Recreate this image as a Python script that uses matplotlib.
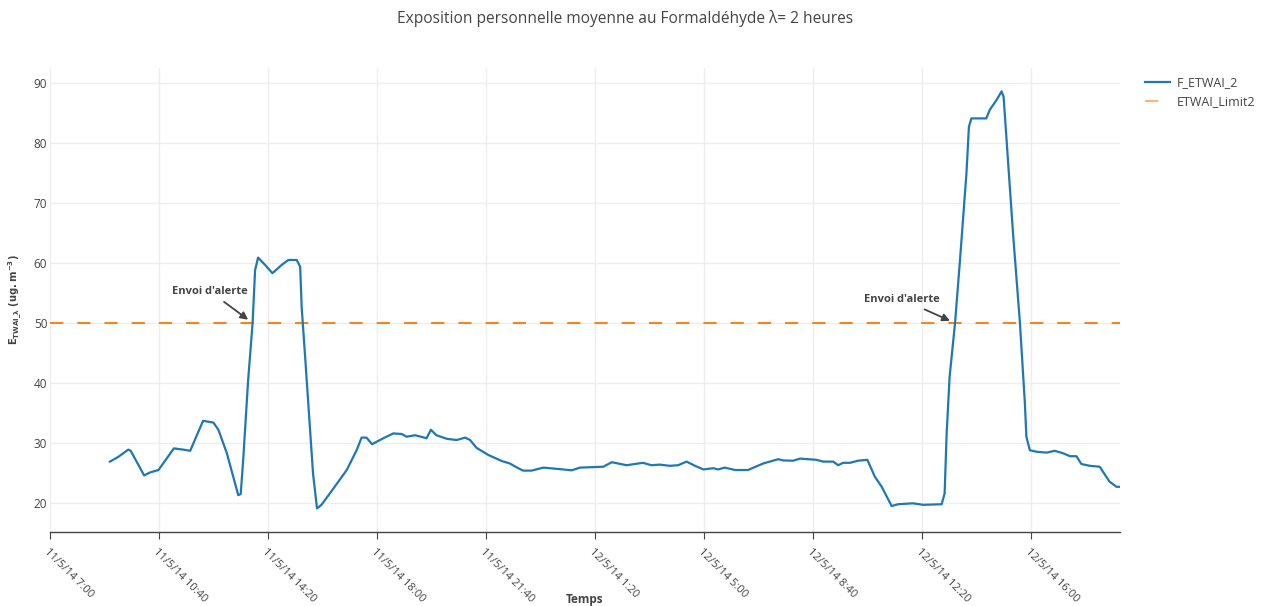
import numpy as np
import pandas as pd
import matplotlib
matplotlib.use("Agg")
import matplotlib.pyplot as plt

plt.rcParams["font.family"] = ["Open Sans", "DejaVu Sans"]
plt.rcParams["mathtext.fontset"] = "dejavusans"

# F_ETWAI_2 readings (day/month/yy hh:mm)
times = [
    "11/5/14 09:01", "11/5/14 09:18", "11/5/14 09:38", "11/5/14 09:43", "11/5/14 10:10",
    "11/5/14 10:22", "11/5/14 10:39", "11/5/14 11:10", "11/5/14 11:29", "11/5/14 11:43",
    "11/5/14 12:09", "11/5/14 12:30", "11/5/14 12:40", "11/5/14 12:57", "11/5/14 13:20",
    "11/5/14 13:25", "11/5/14 13:30", "11/5/14 13:40", "11/5/14 13:49", "11/5/14 13:54",
    "11/5/14 14:00", "11/5/14 14:14", "11/5/14 14:29", "11/5/14 14:48", "11/5/14 15:01",
    "11/5/14 15:18", "11/5/14 15:25", "11/5/14 15:28", "11/5/14 15:35", "11/5/14 15:51",
    "11/5/14 15:59", "11/5/14 16:08", "11/5/14 16:32", "11/5/14 16:59", "11/5/14 17:19",
    "11/5/14 17:29", "11/5/14 17:39", "11/5/14 17:50", "11/5/14 18:13", "11/5/14 18:33",
    "11/5/14 18:50", "11/5/14 19:00", "11/5/14 19:17", "11/5/14 19:40", "11/5/14 19:49",
    "11/5/14 20:00", "11/5/14 20:21", "11/5/14 20:41", "11/5/14 20:58", "11/5/14 21:08",
    "11/5/14 21:21", "11/5/14 21:45", "11/5/14 22:12", "11/5/14 22:28", "11/5/14 22:43",
    "11/5/14 22:55", "11/5/14 23:12", "11/5/14 23:36", "12/5/14 00:03", "12/5/14 00:33",
    "12/5/14 00:50", "12/5/14 01:37", "12/5/14 01:54", "12/5/14 02:24", "12/5/14 02:57",
    "12/5/14 03:14", "12/5/14 03:31", "12/5/14 03:51", "12/5/14 04:08", "12/5/14 04:25",
    "12/5/14 04:42", "12/5/14 04:59", "12/5/14 05:19", "12/5/14 05:29", "12/5/14 05:42",
    "12/5/14 06:03", "12/5/14 06:29", "12/5/14 07:00", "12/5/14 07:30", "12/5/14 07:40",
    "12/5/14 08:00", "12/5/14 08:14", "12/5/14 08:47", "12/5/14 09:01", "12/5/14 09:21",
    "12/5/14 09:31", "12/5/14 09:41", "12/5/14 09:55", "12/5/14 10:11", "12/5/14 10:30",
    "12/5/14 10:45", "12/5/14 10:59", "12/5/14 11:19", "12/5/14 11:32", "12/5/14 12:02",
    "12/5/14 12:23", "12/5/14 13:00", "12/5/14 13:06", "12/5/14 13:10", "12/5/14 13:16",
    "12/5/14 13:27", "12/5/14 13:37", "12/5/14 13:50", "12/5/14 13:55", "12/5/14 14:00",
    "12/5/14 14:30", "12/5/14 14:37", "12/5/14 14:51", "12/5/14 15:01", "12/5/14 15:05",
    "12/5/14 15:11", "12/5/14 15:24", "12/5/14 15:38", "12/5/14 15:48", "12/5/14 15:51",
    "12/5/14 15:58", "12/5/14 16:11", "12/5/14 16:32", "12/5/14 16:48", "12/5/14 17:05",
    "12/5/14 17:19", "12/5/14 17:32", "12/5/14 17:42", "12/5/14 17:59", "12/5/14 18:19",
    "12/5/14 18:39", "12/5/14 18:53", "12/5/14 19:00",
]
etwai = [
    26.9, 27.7, 28.9, 28.7, 24.6,
    25.1, 25.5, 29.1, 28.9, 28.7,
    33.7, 33.4, 32.2, 28.3, 21.3,
    21.5, 27.2, 40.5, 50.0, 58.8,
    60.9, 59.7, 58.3, 59.7, 60.5,
    60.5, 59.4, 52.7, 44.4, 24.9,
    19.1, 19.7, 22.4, 25.5, 28.8,
    30.9, 30.9, 29.8, 30.8, 31.6,
    31.5, 31.05, 31.3, 30.8, 32.2,
    31.3, 30.7, 30.5, 30.9, 30.5,
    29.2, 28.0, 27.0, 26.6, 25.9,
    25.4, 25.4, 25.9, 25.7, 25.45,
    25.9, 26.05, 26.8, 26.3, 26.7,
    26.3, 26.4, 26.2, 26.3, 26.9,
    26.2, 25.6, 25.8, 25.6, 25.9,
    25.5, 25.5, 26.6, 27.3, 27.1,
    27.05, 27.4, 27.2, 26.9, 26.9,
    26.3, 26.7, 26.7, 27.05, 27.2,
    24.4, 22.7, 19.5, 19.8, 19.95,
    19.7, 19.8, 21.6, 31.5, 41.0,
    50.0, 60.5, 74.9, 82.7, 84.1,
    84.1, 85.5, 87.2, 88.6, 87.7,
    80.5, 65.0, 50.0, 36.6, 31.05,
    28.8, 28.55, 28.4, 28.7, 28.3,
    27.8, 27.8, 26.5, 26.2, 26.05,
    23.55, 22.7, 22.7,
]

# ETWAI_Limit2 threshold
limit_times = ["11/5/14 07:00", "12/5/14 19:00"]
limit_values = [50, 50]

# alert points
alert_times = ["11/5/14 13:49", "12/5/14 13:27"]
alert_values = [50, 50]
alert_text = "Envoi d'alerte"

fmt = "%d/%m/%y %H:%M"
t = pd.to_datetime(times, format=fmt)
t_lim = pd.to_datetime(limit_times, format=fmt)
t_alert = pd.to_datetime(alert_times, format=fmt)

GREY = "#444444"

fig = plt.figure(figsize=(12.7, 6.06), dpi=100)
ax = fig.add_axes([50 / 1270, 74 / 606, 1070 / 1270, 464 / 606])

ax.plot(t, etwai, color="#1f77b4", lw=1.6, label="F_ETWAI_2", zorder=3)
ax.plot(t_lim, limit_values, color="#ff7f0e", lw=1.4, dashes=(6.8, 7.2),
        label="ETWAI_Limit2", zorder=2)

# x axis: ticks every 3h40
start = pd.Timestamp("2014-05-11 07:00")
ticks = pd.date_range(start, periods=10, freq="220min")
ax.set_xticks(ticks)
ax.set_xticklabels([f"{d.day}/{d.month}/{d.strftime('%y')} {d.hour}:{d.minute:02d}" for d in ticks],
                   rotation=-45, ha="left", va="top", rotation_mode="anchor")
ax.set_xlim(start, pd.Timestamp("2014-05-12 19:00"))
ax.set_ylim(15.17, 92.5)
ax.set_yticks([20, 30, 40, 50, 60, 70, 80, 90])

ax.grid(True, color="#eeeeee", lw=1)
ax.set_axisbelow(True)
for side in ["top", "right", "left"]:
    ax.spines[side].set_visible(False)
ax.spines["bottom"].set_color(GREY)
ax.spines["bottom"].set_linewidth(1)
ax.tick_params(axis="x", length=5, color=GREY, labelcolor=GREY, labelsize=8, pad=5)
ax.tick_params(axis="y", length=0, labelcolor=GREY, labelsize=8.5, pad=2)

ax.set_xlabel("Temps", fontweight="bold", color=GREY, fontsize=8.5)
ax.xaxis.set_label_coords(0.5, -0.132)
ax.set_ylabel(r"$\mathbf{E_{TWAI\_\lambda}\ (ug.m^{-3})}$", color=GREY, fontsize=7.2)
ax.yaxis.set_label_coords(-0.0245, 0.5)

fig.suptitle("Exposition personnelle moyenne au Formaldéhyde λ= 2 heures",
             x=0.492, y=0.983, fontsize=11.2, color=GREY)

offsets = [(-31, 23), (-38, 17)]
for ta, va, off in zip(t_alert, alert_values, offsets):
    ax.annotate(alert_text, xy=(ta, va), xytext=off, textcoords="offset points",
                ha="center", va="center", fontsize=8, fontweight="bold", color=GREY,
                arrowprops=dict(arrowstyle="-|>,head_length=0.55,head_width=0.28",
                                color=GREY, lw=1.3, shrinkA=3, shrinkB=4))

leg = ax.legend(loc="upper left", bbox_to_anchor=(1134 / 1270, 541 / 606),
                bbox_transform=fig.transFigure, frameon=False, fontsize=9,
                handlelength=2.0, handletextpad=0.5, labelspacing=0.45)
for txt in leg.get_texts():
    txt.set_color(GREY)
leg.get_lines()[1].set_alpha(0.6)

fig.savefig("out.png", dpi=100, facecolor="white")
